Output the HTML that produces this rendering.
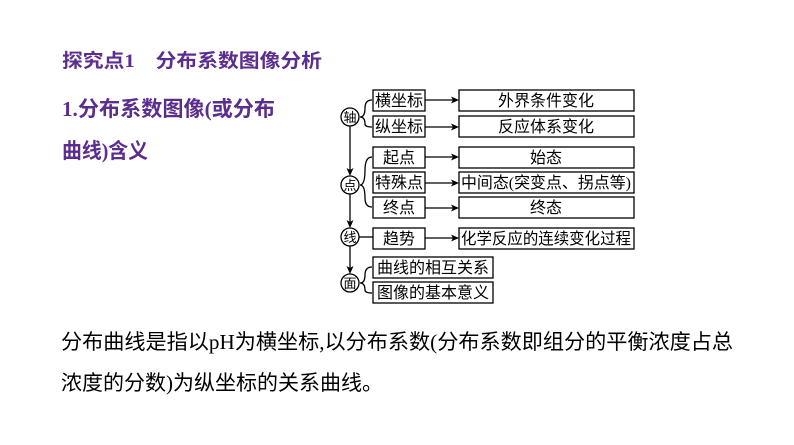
<!DOCTYPE html>
<html><head><meta charset="utf-8"><style>
html,body{margin:0;padding:0;background:#fff;}
svg{display:block}
</style></head><body>
<svg width="794" height="445" viewBox="0 0 794 445" xmlns="http://www.w3.org/2000/svg" font-family="'Liberation Serif','Noto Sans CJK SC',sans-serif">
<g fill="#5b2d8e" font-weight="bold">
<text x="62" y="67" font-size="19" textLength="260" lengthAdjust="spacingAndGlyphs">探究点1　分布系数图像分析</text>
<text x="62" y="116" font-size="21" textLength="213" lengthAdjust="spacingAndGlyphs">1.分布系数图像(或分布</text>
<text x="62" y="158" font-size="21" textLength="86" lengthAdjust="spacingAndGlyphs">曲线)含义</text>
</g>
<g fill="#000" font-size="21">
<text x="61" y="349" textLength="672" lengthAdjust="spacingAndGlyphs">分布曲线是指以pH为横坐标,以分布系数(分布系数即组分的平衡浓度占总</text>
<text x="61" y="390" textLength="322" lengthAdjust="spacingAndGlyphs">浓度的分数)为纵坐标的关系曲线。</text>
</g>
<g fill="none" stroke="#000" stroke-width="1.3">
<rect x="373" y="90" width="52" height="21"/>
<rect x="373" y="116" width="52" height="21"/>
<rect x="373" y="147" width="52" height="21"/>
<rect x="373" y="172" width="52" height="21"/>
<rect x="373" y="197" width="52" height="21"/>
<rect x="373" y="228" width="52" height="21"/>
<rect x="373" y="257" width="120" height="21"/>
<rect x="373" y="282" width="120" height="21"/>
<rect x="459" y="90" width="175" height="21"/>
<rect x="459" y="116" width="175" height="21"/>
<rect x="459" y="147" width="175" height="21"/>
<rect x="459" y="172" width="175" height="21"/>
<rect x="459" y="197" width="175" height="21"/>
<rect x="459" y="228" width="175" height="21"/>
<circle cx="350" cy="117" r="9"/>
<circle cx="350" cy="185" r="9"/>
<circle cx="350" cy="237" r="9"/>
<circle cx="350" cy="283" r="9"/>
<line x1="350" y1="126" x2="350" y2="172"/>
<line x1="350" y1="194" x2="350" y2="224"/>
<line x1="350" y1="246" x2="350" y2="270"/>
<line x1="359" y1="237" x2="373" y2="237"/>
<path d="M372 100 Q365 100 365 108 Q365 117 360 117 Q365 117 365 124 Q365 127 372 127"/>
<path d="M372 157 Q365 157 365 170 Q365 185 360 185 Q365 185 365 198 Q365 207 372 207"/>
<path d="M372 267 Q365 267 365 275 Q365 283 360 283 Q365 283 365 290 Q365 293 372 293"/>
<line x1="425" y1="100" x2="453" y2="100"/>
<line x1="425" y1="127" x2="453" y2="127"/>
<line x1="425" y1="157" x2="453" y2="157"/>
<line x1="425" y1="183" x2="453" y2="183"/>
<line x1="425" y1="208" x2="453" y2="208"/>
<line x1="425" y1="238" x2="453" y2="238"/>
</g>
<g fill="#000">
<path d="M459 100 l-8 -3.5 l2 3.5 l-2 3.5z"/>
<path d="M459 127 l-8 -3.5 l2 3.5 l-2 3.5z"/>
<path d="M459 157 l-8 -3.5 l2 3.5 l-2 3.5z"/>
<path d="M459 183 l-8 -3.5 l2 3.5 l-2 3.5z"/>
<path d="M459 208 l-8 -3.5 l2 3.5 l-2 3.5z"/>
<path d="M459 238 l-8 -3.5 l2 3.5 l-2 3.5z"/>
<path d="M350 176 l-3.5 -8 l3.5 2 l3.5 -2z"/>
<path d="M350 228 l-3.5 -8 l3.5 2 l3.5 -2z"/>
<path d="M350 274 l-3.5 -8 l3.5 2 l3.5 -2z"/>
</g>
<g fill="#000" font-size="16" text-anchor="middle">
<text x="350" y="122" font-size="13">轴</text>
<text x="350" y="190" font-size="13">点</text>
<text x="350" y="242" font-size="13">线</text>
<text x="350" y="288" font-size="13">面</text>
<text x="399" y="106">横坐标</text>
<text x="399" y="132">纵坐标</text>
<text x="399" y="163">起点</text>
<text x="399" y="188">特殊点</text>
<text x="399" y="213">终点</text>
<text x="399" y="244">趋势</text>
<text x="433" y="273">曲线的相互关系</text>
<text x="433" y="298">图像的基本意义</text>
<text x="546" y="106">外界条件变化</text>
<text x="546" y="132">反应体系变化</text>
<text x="546" y="163">始态</text>
<text x="546" y="188" textLength="170" lengthAdjust="spacingAndGlyphs">中间态(突变点、拐点等)</text>
<text x="546" y="213">终态</text>
<text x="546" y="244" textLength="170" lengthAdjust="spacingAndGlyphs">化学反应的连续变化过程</text>
</g>
</svg>
</body></html>
